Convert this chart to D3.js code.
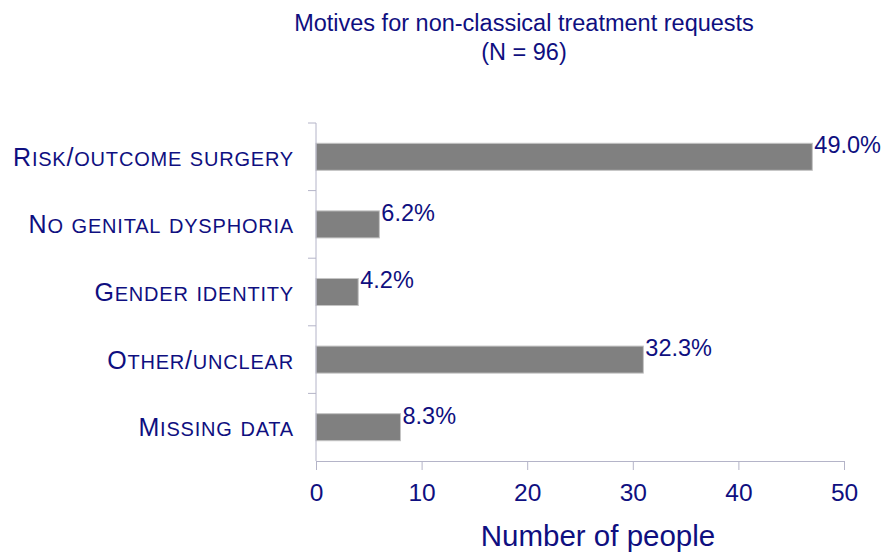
<!DOCTYPE html>
<html>
<head>
<meta charset="utf-8">
<script src="https://cdn.jsdelivr.net/npm/d3@7"></script>
<style>
  body { margin: 0; background: #fff; }
  text { font-family: "Liberation Sans", Arial, sans-serif; }
</style>
</head>
<body>
<svg id="chart" width="888" height="552"></svg>
<script>
// motives, top to bottom
var categories = ["Risk/outcome surgery", "No genital dysphoria", "Gender identity", "Other/unclear", "Missing data"];
var counts = [47, 6, 4, 31, 8];
var percentLabels = ["49.0%", "6.2%", "4.2%", "32.3%", "8.3%"];
var xTicks = [0, 10, 20, 30, 40, 50];

var navy = "#0f0f80";
var svg = d3.select("#chart");
var margin = { top: 123, right: 44, bottom: 91, left: 316 };
var width = 888 - margin.left - margin.right,
    height = 552 - margin.top - margin.bottom;

var x = d3.scaleLinear().domain([0, 50]).range([0, width]);
var y = d3.scaleBand().domain(categories).range([0, height]).paddingInner(0.6).paddingOuter(0.3);

var g = svg.append("g")
    .attr("transform", "translate(" + margin.left + "," + margin.top + ")");

// bars
g.selectAll("rect.bar")
  .data(counts)
  .enter().append("rect")
    .attr("class", "bar")
    .attr("x", 0)
    .attr("y", function(d, i) { return y(categories[i]); })
    .attr("width", function(d) { return x(d); })
    .attr("height", y.bandwidth())
    .attr("fill", "#808080")
    .attr("stroke", "#c4c4c4")
    .attr("stroke-width", 1);

// value labels
g.selectAll("text.val")
  .data(counts)
  .enter().append("text")
    .attr("class", "val")
    .attr("x", function(d) { return x(d) + 2; })
    .attr("y", function(d, i) { return y(categories[i]); })
    .attr("dy", "0.42em")
    .attr("fill", navy)
    .style("font-size", "23.5px")
    .text(function(d, i) { return percentLabels[i]; });

// y axis line and band separators
var axisColor = "#b4b4c8";
g.append("line")
  .attr("x1", 0).attr("x2", 0)
  .attr("y1", 0).attr("y2", height)
  .attr("stroke", axisColor);

var step = height / categories.length;
g.selectAll("line.sep")
  .data(d3.range(categories.length))
  .enter().append("line")
    .attr("class", "sep")
    .attr("x1", -8).attr("x2", 0)
    .attr("y1", function(d) { return d * step; })
    .attr("y2", function(d) { return d * step; })
    .attr("stroke", axisColor);

// category labels, small caps built by hand (lowercase -> smaller capitals)
var cats = g.selectAll("text.cat")
  .data(categories)
  .enter().append("text")
    .attr("class", "cat")
    .attr("x", -22)
    .attr("y", function(d, i) { return (i + 0.5) * step; })
    .attr("dy", "0.36em")
    .attr("text-anchor", "end")
    .attr("fill", navy)
    .style("font-size", "25px")
    .style("letter-spacing", "0.8px");

cats.each(function(d) {
  var t = d3.select(this);
  var runs = [];
  d.split("").forEach(function(ch) {
    var small = ch !== ch.toUpperCase();
    var last = runs[runs.length - 1];
    if (last && last.small === small) last.s += ch;
    else runs.push({ small: small, s: ch });
  });
  runs.forEach(function(r) {
    t.append("tspan")
      .style("font-size", r.small ? "20px" : "25px")
      .text(r.s.toUpperCase());
  });
});

// x axis
var xAxis = g.append("g")
    .attr("transform", "translate(0," + height + ")")
    .call(d3.axisBottom(x).tickValues(xTicks).tickSize(9).tickPadding(14).tickSizeOuter(0));

xAxis.select(".domain").attr("stroke", axisColor);
xAxis.selectAll("line").attr("stroke", axisColor);
xAxis.selectAll("text")
    .attr("fill", navy)
    .style("font-size", "24.5px")
    .style("font-family", "'Liberation Sans', Arial, sans-serif");

svg.append("text")
    .attr("x", 598)
    .attr("y", 546)
    .attr("text-anchor", "middle")
    .attr("fill", navy)
    .style("font-size", "29.5px")
    .text("Number of people");

// title
svg.append("text")
    .attr("x", 524)
    .attr("y", 31)
    .attr("text-anchor", "middle")
    .attr("fill", navy)
    .style("font-size", "23.5px")
    .text("Motives for non-classical treatment requests");

svg.append("text")
    .attr("x", 524)
    .attr("y", 60)
    .attr("text-anchor", "middle")
    .attr("fill", navy)
    .style("font-size", "23.5px")
    .text("(N = 96)");
</script>
</body>
</html>
